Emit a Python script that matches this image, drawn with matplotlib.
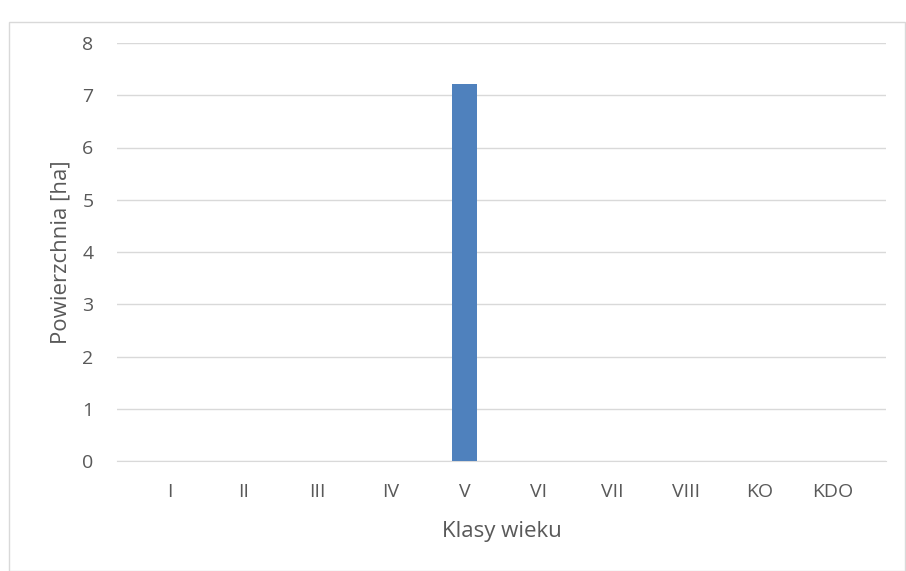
import matplotlib
matplotlib.use("Agg")
import matplotlib.pyplot as plt
from matplotlib.patches import Rectangle

# age classes and area per class [ha]
classes = ["I", "II", "III", "IV", "V", "VI", "VII", "VIII", "KO", "KDO"]
area_ha = [0, 0, 0, 0, 7.22, 0, 0, 0, 0, 0]
y_ticks = [0, 1, 2, 3, 4, 5, 6, 7, 8]

plt.rcParams["font.family"] = ["Open Sans", "DejaVu Sans"]
text_color = "#595959"

fig = plt.figure(figsize=(9.06, 5.71), dpi=100)
ax = fig.add_axes([117 / 906, 1 - 461 / 571, (886 - 117) / 906, (461 - 43) / 571])

# chart-area border like the spreadsheet export
fig.patches.append(Rectangle((9 / 906, 0), 1 - 9 / 906 - 0.001, 1 - 22 / 571,
                             transform=fig.transFigure, fill=False,
                             edgecolor="#d9d9d9", linewidth=1.0))

x = list(range(len(classes)))
ax.bar(x, area_ha, width=0.34, color="#4f81bd", zorder=3)

ax.set_xlim(-0.72, len(classes) - 1 + 0.72)
ax.set_ylim(0, 8)
ax.set_yticks(y_ticks)
ax.set_xticks(x)
ax.set_xticklabels(classes)
ax.grid(axis="y", color="#d9d9d9", linewidth=1.0, zorder=0)
ax.set_axisbelow(True)

for side in ["top", "right", "left"]:
    ax.spines[side].set_visible(False)
ax.spines["bottom"].set_color("#d9d9d9")
ax.tick_params(axis="both", length=0, colors=text_color, labelsize=14)
ax.tick_params(axis="x", pad=16)
ax.tick_params(axis="y", pad=17)

ax.set_xlabel("Klasy wieku", color=text_color, fontsize=16, labelpad=14)
ax.set_ylabel("Powierzchnia [ha]", color=text_color, fontsize=16, labelpad=8)

fig.savefig("out.png", dpi=100)
